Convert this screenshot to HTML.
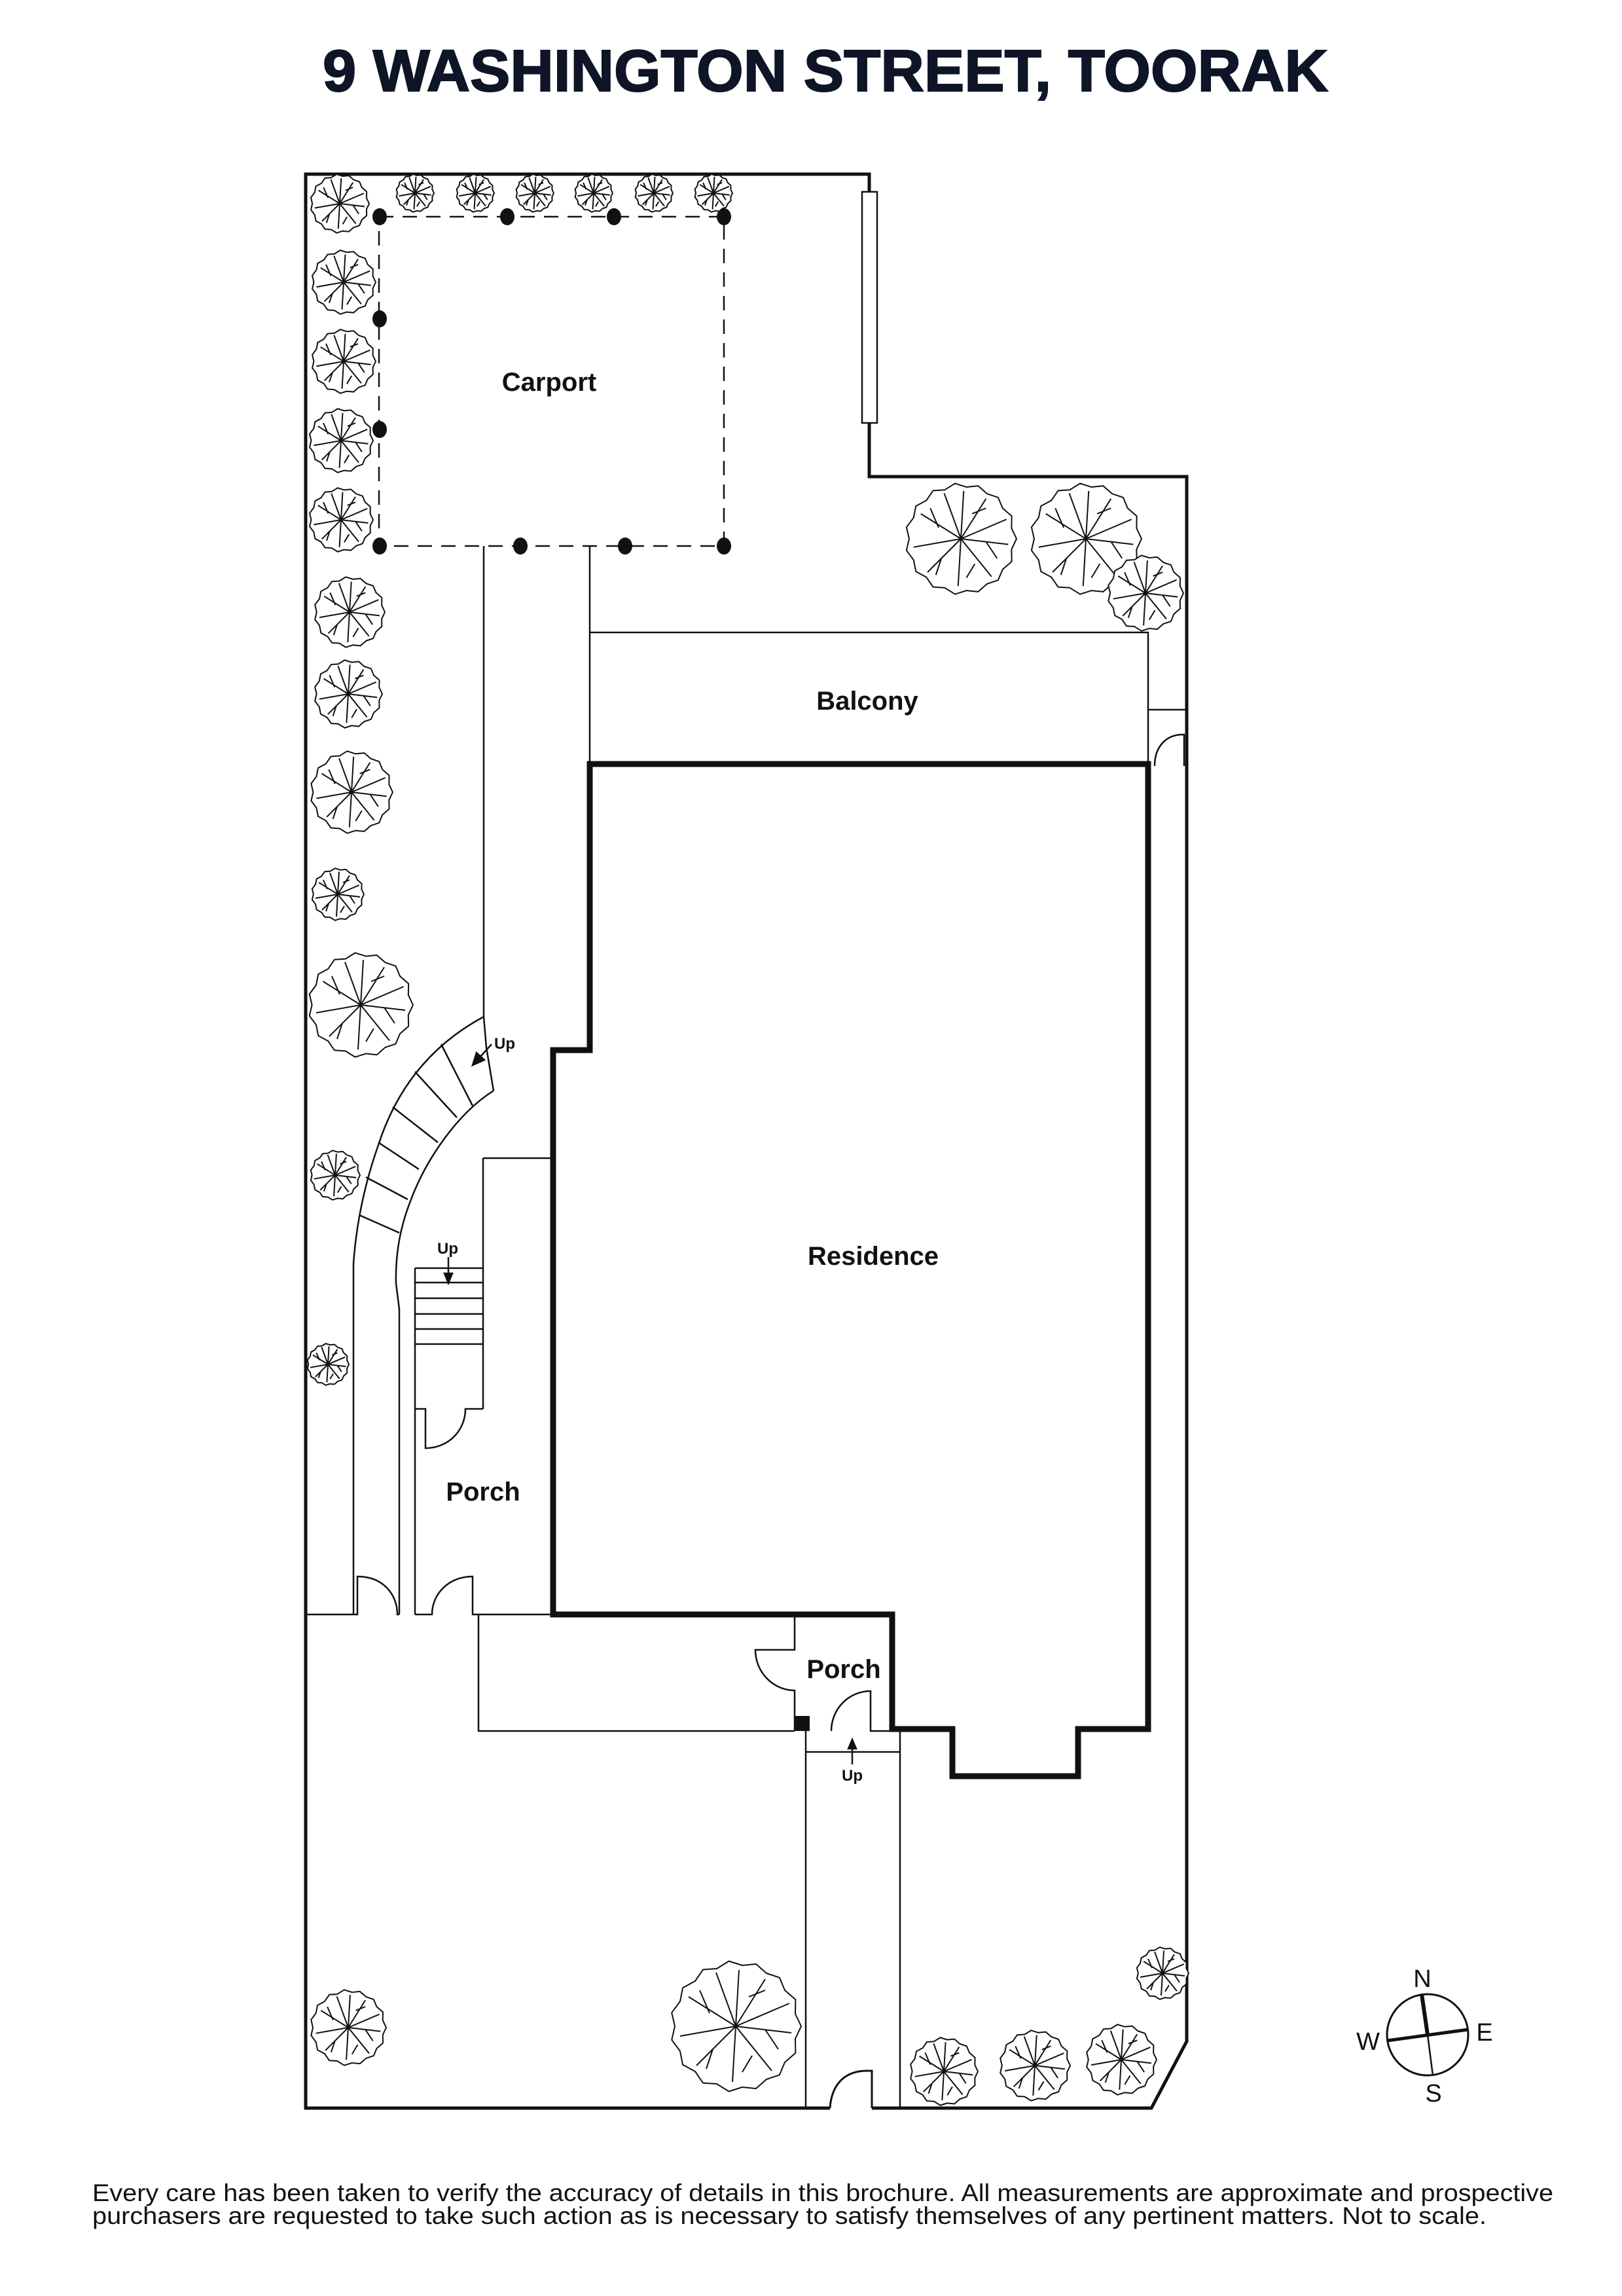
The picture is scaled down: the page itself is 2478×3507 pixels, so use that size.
<!DOCTYPE html>
<html><head><meta charset="utf-8"><style>html,body{margin:0;padding:0;background:#fff}svg{display:block}</style></head>
<body>
<svg width="2478" height="3507" viewBox="0 0 2478 3507" xmlns="http://www.w3.org/2000/svg">
<defs>
<symbol id="t" viewBox="-1 -1 2 2" overflow="visible">
<g fill="#fff" stroke="#111" stroke-width="2" vector-effect="non-scaling-stroke" stroke-linejoin="round">
<polygon vector-effect="non-scaling-stroke" points="1,0 .91,.19 .914,.407 .75,.55 .669,.743 .47,.81 .309,.951 .1,.93 -.105,.995 -.29,.88 -.5,.866 -.62,.69 -.809,.588 -.85,.38 -.978,.208 -.93,0 -.978,-.208 -.85,-.38 -.809,-.588 -.62,-.69 -.5,-.866 -.29,-.88 -.105,-.995 .1,-.93 .309,-.951 .47,-.81 .669,-.743 .75,-.55 .914,-.407 .91,-.19"/>
<path vector-effect="non-scaling-stroke" fill="none" d="M0 0L.85 .1M0 0L.55 .68M0 0L-.05 .85M0 0L-.6 .6M0 0L-.85 .15M0 0L-.72 -.45M0 0L-.3 -.82M0 0L.05 -.86M0 0L.45 -.72M0 0L.82 -.35M.45 .05L.65 .35M-.35 .35L-.45 .65M.2 -.45L.45 -.55M-.4 -.2L-.55 -.55M.25 .45L.1 .7"/>
</g>
</symbol>
</defs>

<text x="1261" y="139" text-anchor="middle" font-family="Liberation Sans, sans-serif" font-weight="bold" font-size="90" fill="#0d1526" stroke="#0d1526" stroke-width="2" textLength="1536" lengthAdjust="spacingAndGlyphs">9 WASHINGTON STREET, TOORAK</text>

<g fill="none" stroke="#111" stroke-linecap="butt">
<path d="M1268 3220 L467 3220 L467 266 L1328 266 L1328 728 L1813 728 L1813 3118 L1759 3220 L1332 3220" stroke-width="5"/>
<path d="M1268 3220 C1270 3190 1285 3163 1325 3163 L1332 3163 L1332 3220" stroke-width="3"/>
<rect x="1317" y="293" width="23" height="353" fill="#fff" stroke-width="2.5"/>
<rect x="579" y="331" width="527" height="503" stroke-width="2.5" stroke-dasharray="22,14"/>
<path d="M739 834 V1553 M901 834 V1167" stroke-width="2.5"/>
<path d="M901 966 H1754 V1167 M1754 1084 H1813" stroke-width="2.5"/>
<path d="M1764 1170 C1764 1140 1782 1122 1807 1122 L1809 1122 L1809 1170" stroke-width="2.5"/>
<polygon points="901,1167 1754,1167 1754,2641 1647,2641 1647,2713 1455,2713 1455,2641 1363,2641 1363,2466 845,2466 845,1604 901,1604" stroke-width="9" stroke-linejoin="miter"/>

<g stroke-width="2.5">
<path d="M739 1553 C670 1590 610 1650 578 1749 C560 1800 545 1860 540 1930 L540 2466"/>
<path d="M754 1666 C700 1700 650 1770 625 1840 C610 1880 604 1920 605 1960 C608 1985 610 2000 610 2000 L610 2466"/>
<path d="M739 1553 L743 1600 L754 1666"/>
<path d="M549 1856 L610 1883 M559 1798 L623 1832 M578 1745 L640 1786 M600 1691 L669 1745 M634 1637 L698 1707 M674 1595 L722 1689"/>
<path d="M634 1937 V2466 M738 1769 V2152 M738 1769 H845"/>
<path d="M634 1937 H738 M634 1959 H738 M634 1983 H738 M634 2007 H738 M634 2030 H738 M634 2053 H738"/>
<path d="M634 2152 H650 V2212 C685 2212 711 2185 711 2152 H738"/>
<path d="M467 2466 H546 V2408 C585 2408 607 2435 607 2466 H610"/>
<path d="M634 2466 H660 C660 2435 685 2408 722 2408 V2466 H845"/>
<path d="M731 2466 V2644 H1214"/>
<path d="M1214 2466 V2520 H1154 C1154 2555 1182 2582 1214 2582 V2644"/>
<path d="M1270 2644 C1270 2610 1297 2583 1330 2583 V2644 H1363"/>
<path d="M1231 2644 V3220 M1375 2644 V3220 M1231 2676 H1375"/>
</g>
</g>
<rect x="1214" y="2621" width="23" height="23" fill="#111"/>

<g stroke="#111" stroke-width="2.5" fill="#111">
<line x1="751" y1="1595" x2="732" y2="1616"/>
<polygon points="722,1627 728,1608 740,1619"/>
<line x1="685" y1="1920" x2="685" y2="1948"/>
<polygon points="685,1960 679,1945 691,1945"/>
<line x1="1302" y1="2695" x2="1302" y2="2668"/>
<polygon points="1302,2657 1296,2671 1308,2671"/>
</g>

<g fill="#111">
<ellipse cx="580" cy="331" rx="11" ry="13"/><ellipse cx="775" cy="331" rx="11" ry="13"/><ellipse cx="938" cy="331" rx="11" ry="13"/><ellipse cx="1106" cy="331" rx="11" ry="13"/>
<ellipse cx="580" cy="487" rx="11" ry="13"/><ellipse cx="580" cy="656" rx="11" ry="13"/>
<ellipse cx="580" cy="834" rx="11" ry="13"/><ellipse cx="795" cy="834" rx="11" ry="13"/><ellipse cx="955" cy="834" rx="11" ry="13"/><ellipse cx="1106" cy="834" rx="11" ry="13"/>
</g>

<g>
<use href="#t" x="474" y="266" width="90" height="90"/>
<use href="#t" x="476" y="382" width="98" height="98"/>
<use href="#t" x="476" y="503" width="98" height="98"/>
<use href="#t" x="472" y="624" width="98" height="98"/>
<use href="#t" x="472" y="745" width="98" height="98"/>
<use href="#t" x="480" y="881" width="108" height="108"/>
<use href="#t" x="480" y="1008" width="104" height="104"/>
<use href="#t" x="474" y="1147" width="126" height="126"/>
<use href="#t" x="476" y="1326" width="80" height="80"/>
<use href="#t" x="471" y="1455" width="160" height="160"/>
<use href="#t" x="474" y="1757" width="76" height="76"/>
<use href="#t" x="469" y="2052" width="64" height="64"/>
<use href="#t" x="474" y="3039" width="116" height="116"/>
<use href="#t" x="605" y="266" width="58" height="58"/>
<use href="#t" x="697" y="266" width="58" height="58"/>
<use href="#t" x="788" y="266" width="58" height="58"/>
<use href="#t" x="878" y="266" width="58" height="58"/>
<use href="#t" x="970" y="266" width="58" height="58"/>
<use href="#t" x="1061" y="266" width="58" height="58"/>
<use href="#t" x="1383" y="738" width="170" height="170"/>
<use href="#t" x="1574" y="738" width="170" height="170"/>
<use href="#t" x="1692" y="848" width="116" height="116"/>
<use href="#t" x="1024" y="2995" width="200" height="200"/>
<use href="#t" x="1390" y="3112" width="104" height="104"/>
<use href="#t" x="1527" y="3101" width="108" height="108"/>
<use href="#t" x="1659" y="3092" width="108" height="108"/>
<use href="#t" x="1736" y="2974" width="80" height="80"/>
</g>

<g font-family="Liberation Sans, sans-serif" font-weight="bold" fill="#111" text-anchor="middle">
<text x="839" y="597" font-size="40">Carport</text>
<text x="1325" y="1084" font-size="40">Balcony</text>
<text x="1334" y="1932" font-size="40">Residence</text>
<text x="738" y="2292" font-size="40">Porch</text>
<text x="1289" y="2563" font-size="40">Porch</text>
<text x="771" y="1602" font-size="24">Up</text>
<text x="684" y="1915" font-size="24">Up</text>
<text x="1302" y="2720" font-size="24">Up</text>
</g>

<g stroke="#111" fill="none">
<circle cx="2181" cy="3108" r="62" stroke-width="3"/>
<line x1="2172" y1="3046" x2="2181" y2="3108" stroke-width="6"/>
<line x1="2181" y1="3108" x2="2189" y2="3170" stroke-width="2.5"/>
<line x1="2119" y1="3117" x2="2243" y2="3100" stroke-width="5"/>
</g>
<g font-family="Liberation Sans, sans-serif" font-size="38" fill="#111" text-anchor="middle">
<text x="2173" y="3035">N</text>
<text x="2190" y="3210">S</text>
<text x="2090" y="3131">W</text>
<text x="2268" y="3117">E</text>
</g>

<g font-family="Liberation Sans, sans-serif" font-size="37" fill="#111">
<text x="141" y="3362" textLength="2232" lengthAdjust="spacingAndGlyphs">Every care has been taken to verify the accuracy of details in this brochure. All measurements are approximate and prospective</text>
<text x="141" y="3397" textLength="2130" lengthAdjust="spacingAndGlyphs">purchasers are requested to take such action as is necessary to satisfy themselves of any pertinent matters. Not to scale.</text>
</g>
</svg>
</body></html>
